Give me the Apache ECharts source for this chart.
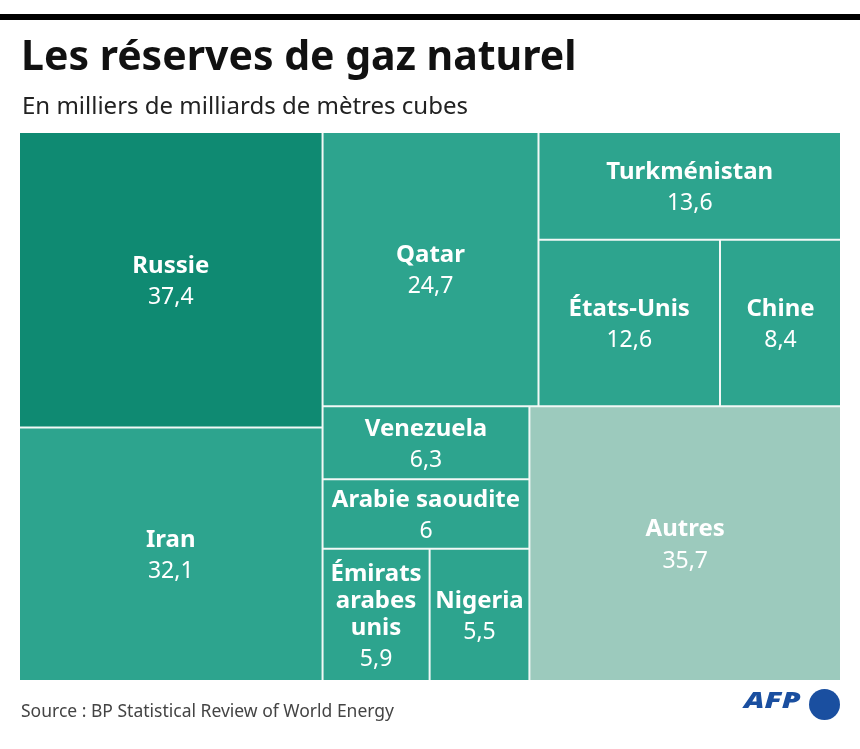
<!DOCTYPE html>
<html>
<head>
<meta charset="utf-8">
<script src="https://cdn.jsdelivr.net/npm/echarts@6/dist/echarts.min.js"></script>
<style>
  html, body { margin: 0; padding: 0; background: #fff; }
  #chart { width: 860px; height: 749px; }
</style>
</head>
<body>
<div id="chart"></div>
<script>
// ---- Data ----
const titleText = 'Les réserves de gaz naturel';
const subtitleText = 'En milliers de milliards de mètres cubes';
const sourceText = 'Source : BP Statistical Review of World Energy';

const countries = ['Russie', 'Iran', 'Qatar', 'Turkménistan', 'États-Unis', 'Chine',
  'Venezuela', 'Arabie saoudite', 'Émirats arabes unis', 'Nigeria', 'Autres'];
const reserves = [37.4, 32.1, 24.7, 13.6, 12.6, 8.4, 6.3, 6, 5.9, 5.5, 35.7];

// grouping of the cells (block structure of the treemap)
const grouping = [
  ['Russie', 'Iran'],
  [
    ['Qatar', ['Turkménistan', ['États-Unis', 'Chine']]],
    'Venezuela',
    ['Arabie saoudite', ['Émirats arabes unis', 'Nigeria']],
    'Autres'
  ]
];

// ---- Styles ----
const colorOf = { 'Russie': '#0f8a72', 'Autres': '#9ccabd' };
const baseColor = '#2da48e';
const NAME_LH = 27, VALUE_LH = 36;

function fmt(v) { return String(v).replace('.', ','); }

function build(spec) {
  if (typeof spec === 'string') {
    const i = countries.indexOf(spec);
    return { name: spec, value: reserves[i], itemStyle: { color: colorOf[spec] || baseColor } };
  }
  return { name: '', children: spec.map(build) };
}

function labelText(p) {
  // long names are written on several lines, one word per line
  const words = p.name.length > 15 ? p.name.split(' ') : [p.name];
  return words.map(w => '{n|' + w + '}').join('\n') + '\n{v|' + fmt(p.value) + '}';
}

const chart = echarts.init(document.getElementById('chart'), null, { renderer: 'canvas' });

const FONT = "'Noto Sans', 'DejaVu Sans', sans-serif";

chart.setOption({
  animation: false,
  backgroundColor: '#ffffff',
  title: [
    { text: titleText, left: 16, top: 33,
      textStyle: { fontFamily: FONT, fontWeight: 'bold', fontSize: 41, color: '#111' } },
    { text: subtitleText, left: 17, top: 90,
      textStyle: { fontFamily: FONT, fontWeight: 'normal', fontSize: 24, color: '#222' } },
    { text: sourceText, left: 16, top: 698,
      textStyle: { fontFamily: FONT, fontWeight: 'normal', fontSize: 17.5, color: '#444' } }
  ],
  graphic: [
    { type: 'rect', left: 0, top: 14, shape: { width: 860, height: 6 }, style: { fill: '#000' } },
    { type: 'text', x: 744, y: 690, scaleX: 1.32,
      style: { text: 'AFP', fontFamily: FONT, fontWeight: 900, fontStyle: 'italic', fontSize: 23, fill: '#1a4fa0' } },
    { type: 'circle', shape: { cx: 824.5, cy: 704.5, r: 15.5 }, style: { fill: '#1a4fa0' } }
  ],
  series: [{
    type: 'treemap',
    left: 20, right: 20, top: 133, bottom: 69,
    squareRatio: 1.3,
    sort: false,
    roam: false,
    nodeClick: false,
    breadcrumb: { show: false },
    emphasis: { disabled: true },
    itemStyle: { borderWidth: 0, gapWidth: 2, borderColor: '#f2f8f6' },
    upperLabel: { show: false },
    label: {
      show: true,
      position: 'inside',
      align: 'center',
      verticalAlign: 'top',
      padding: 0,
      overflow: 'none',
      formatter: labelText,
      rich: {
        n: { fontFamily: FONT, fontWeight: 'bold', fontSize: 24, color: '#fff', lineHeight: NAME_LH, align: 'center' },
        v: { fontFamily: FONT, fontWeight: 'normal', fontSize: 23, color: '#fff', lineHeight: VALUE_LH, align: 'center' }
      }
    },
    // centre the (top-aligned) label block vertically in its cell
    labelLayout: function (p) {
      const lines = String(p.text || '').split('\n').length;
      const contentH = (lines - 1) * NAME_LH + VALUE_LH;
      return {
        x: p.rect.x + p.rect.width / 2,
        y: p.rect.y + (p.rect.height - contentH) / 2 + 4,
        align: 'center',
        verticalAlign: 'top'
      };
    },
    data: grouping.map(build)
  }]
});
</script>
</body>
</html>
